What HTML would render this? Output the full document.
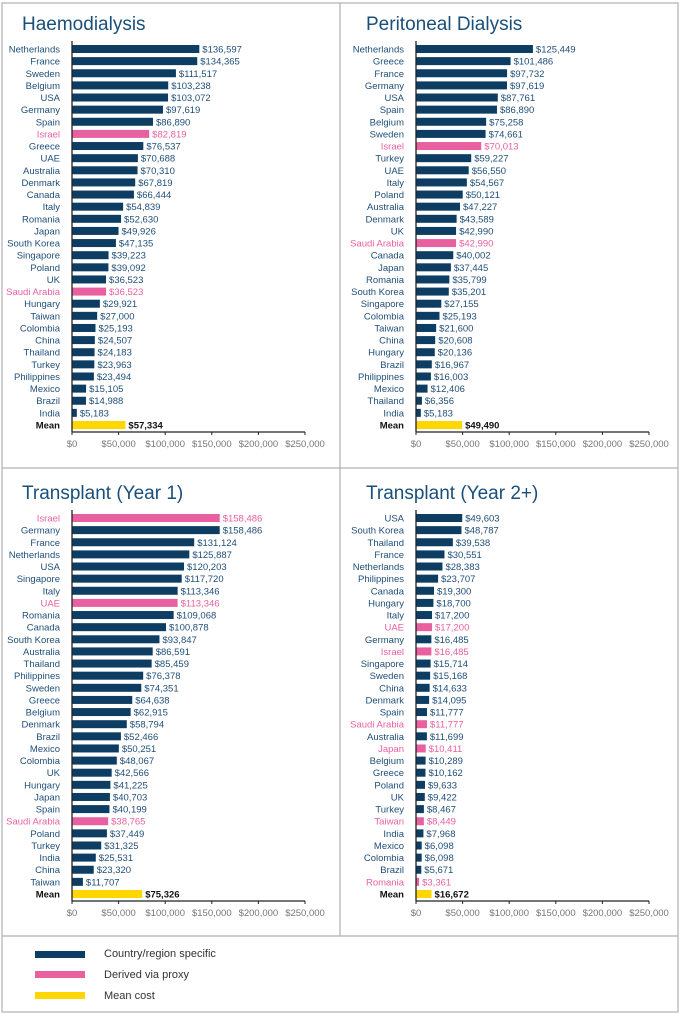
<!DOCTYPE html>
<html><head><meta charset="utf-8">
<style>
body{margin:0;background:#fff;width:680px;height:1014px;overflow:hidden}
svg{display:block;font-family:"Liberation Sans",sans-serif}
</style></head><body>
<svg id="chart" width="680" height="1014" viewBox="0 0 680 1014">
<rect x="2" y="3" width="676" height="1009" fill="none" stroke="#b0b0b0" stroke-width="1.2"/>
<line x1="2" y1="468" x2="678" y2="468" stroke="#b0b0b0" stroke-width="1.2"/>
<line x1="2" y1="936" x2="678" y2="936" stroke="#b0b0b0" stroke-width="1.2"/>
<line x1="340" y1="3" x2="340" y2="936" stroke="#b0b0b0" stroke-width="1.2"/>
<g>
<rect x="35" y="951" width="50" height="7" fill="#0d3d63"/>
<text x="104" y="957" font-size="11" fill="#333">Country/region specific</text>
<rect x="35" y="971" width="50" height="7" fill="#e8609f"/>
<text x="104" y="978" font-size="11" fill="#333">Derived via proxy</text>
<rect x="35" y="992" width="50" height="7" fill="#ffd700"/>
<text x="104" y="999" font-size="11" fill="#333">Mean cost</text>
</g>
</svg>
<script>
const ticks=[0,50000,100000,150000,200000,250000];
const hdCats=["Netherlands","France","Sweden","Belgium","USA","Germany","Spain","Israel","Greece","UAE","Australia","Denmark","Canada","Italy","Romania","Japan","South Korea","Singapore","Poland","UK","Saudi Arabia","Hungary","Taiwan","Colombia","China","Thailand","Turkey","Philippines","Mexico","Brazil","India","Mean"];
const hdVals=[136597,134365,111517,103238,103072,97619,86890,82819,76537,70688,70310,67819,66444,54839,52630,49926,47135,39223,39092,36523,36523,29921,27000,25193,24507,24183,23963,23494,15105,14988,5183,57334];
const hdProxy=["Israel","Saudi Arabia"];
const pdCats=["Netherlands","Greece","France","Germany","USA","Spain","Belgium","Sweden","Israel","Turkey","UAE","Italy","Poland","Australia","Denmark","UK","Saudi Arabia","Canada","Japan","Romania","South Korea","Singapore","Colombia","Taiwan","China","Hungary","Brazil","Philippines","Mexico","Thailand","India","Mean"];
const pdVals=[125449,101486,97732,97619,87761,86890,75258,74661,70013,59227,56550,54567,50121,47227,43589,42990,42990,40002,37445,35799,35201,27155,25193,21600,20608,20136,16967,16003,12406,6356,5183,49490];
const pdProxy=["Israel","Saudi Arabia"];
const t1Cats=["Israel","Germany","France","Netherlands","USA","Singapore","Italy","UAE","Romania","Canada","South Korea","Australia","Thailand","Philippines","Sweden","Greece","Belgium","Denmark","Brazil","Mexico","Colombia","UK","Hungary","Japan","Spain","Saudi Arabia","Poland","Turkey","India","China","Taiwan","Mean"];
const t1Vals=[158486,158486,131124,125887,120203,117720,113346,113346,109068,100878,93847,86591,85459,76378,74351,64638,62915,58794,52466,50251,48067,42566,41225,40703,40199,38765,37449,31325,25531,23320,11707,75326];
const t1Proxy=["Israel","UAE","Saudi Arabia"];
const t2Cats=["USA","South Korea","Thailand","France","Netherlands","Philippines","Canada","Hungary","Italy","UAE","Germany","Israel","Singapore","Sweden","China","Denmark","Spain","Saudi Arabia","Australia","Japan","Belgium","Greece","Poland","UK","Turkey","Taiwan","India","Mexico","Colombia","Brazil","Romania","Mean"];
const t2Vals=[49603,48787,39538,30551,28383,23707,19300,18700,17200,17200,16485,16485,15714,15168,14633,14095,11777,11777,11699,10411,10289,10162,9633,9422,8467,8449,7968,6098,6098,5671,3361,16672];
const t2Proxy=["UAE","Israel","Saudi Arabia","Japan","Taiwan","Romania"];

const NS="http://www.w3.org/2000/svg";
const svg=document.getElementById('chart');
function mk(tag,attrs,parent){const e=document.createElementNS(NS,tag);for(const k in attrs)e.setAttribute(k,attrs[k]);parent.appendChild(e);return e;}
function fmt(v){return "$"+v.toLocaleString("en-US");}
function panel(title,cats,vals,proxy,ox,oy,slug){
  const g=mk('g',{},svg);
  
  
  const x0=ox+72,x1=ox+305;
  const xs=v=>x0+(v/250000)*(x1-x0);
  const yTop=oy+49,step=(425-49)/31;
  const ys=i=>yTop+i*step;
  const t=mk('text',{x:ox+22,y:oy+30,'font-size':19,fill:'#1a4f7a'},g);
  t.textContent=title;
  
  
  cats.forEach((c,i)=>{
    const isMean=c==="Mean",isP=proxy.includes(c);
    const col=isMean?'#ffd700':isP?'#e8609f':'#0d3d63';
    const tcol=isMean?'#111':isP?'#e8609f':'#1f4e79';
    const y=ys(i);
    const r=mk('rect',{x:x0,y:y-4,width:Math.max(0.5,xs(vals[i])-x0),height:8,fill:col},g);
    
    
    const l=mk('text',{x:x0-12,y:y+3.5,'font-size':9.5,'text-anchor':'end',fill:tcol,'font-weight':isMean?'bold':'normal'},g);
    l.textContent=c;
    
    
    const vl=mk('text',{x:xs(vals[i])+3,y:y+3.5,'font-size':9.5,fill:tcol,'font-weight':isMean?'bold':'normal'},g);
    vl.textContent=fmt(vals[i]);
    
    
  });
  const ay=oy+432;
  const yl=mk('line',{x1:x0,y1:yTop-8,x2:x0,y2:ay,stroke:'#222','stroke-width':1.3},g);
  
  
  const xl=mk('line',{x1:x0,y1:ay,x2:x1,y2:ay,stroke:'#222','stroke-width':1.3},g);
  
  
  ticks.forEach(tv=>{
    const tk=mk('line',{x1:xs(tv),y1:ay,x2:xs(tv),y2:ay+3,stroke:'#222','stroke-width':1},g);
    
    
    const tl=mk('text',{x:xs(tv),y:ay+15,'font-size':9.5,'text-anchor':'middle',fill:'#777'},g);
    tl.textContent=fmt(tv);
    
    
  });
}
panel("Haemodialysis",hdCats,hdVals,hdProxy,0,0,'haemodialysis');
panel("Peritoneal Dialysis",pdCats,pdVals,pdProxy,344,0,'peritoneal-dialysis');
panel("Transplant (Year 1)",t1Cats,t1Vals,t1Proxy,0,469,'transplant-year1');
panel("Transplant (Year 2+)",t2Cats,t2Vals,t2Proxy,344,469,'transplant-year2');
</script>
</body></html>
